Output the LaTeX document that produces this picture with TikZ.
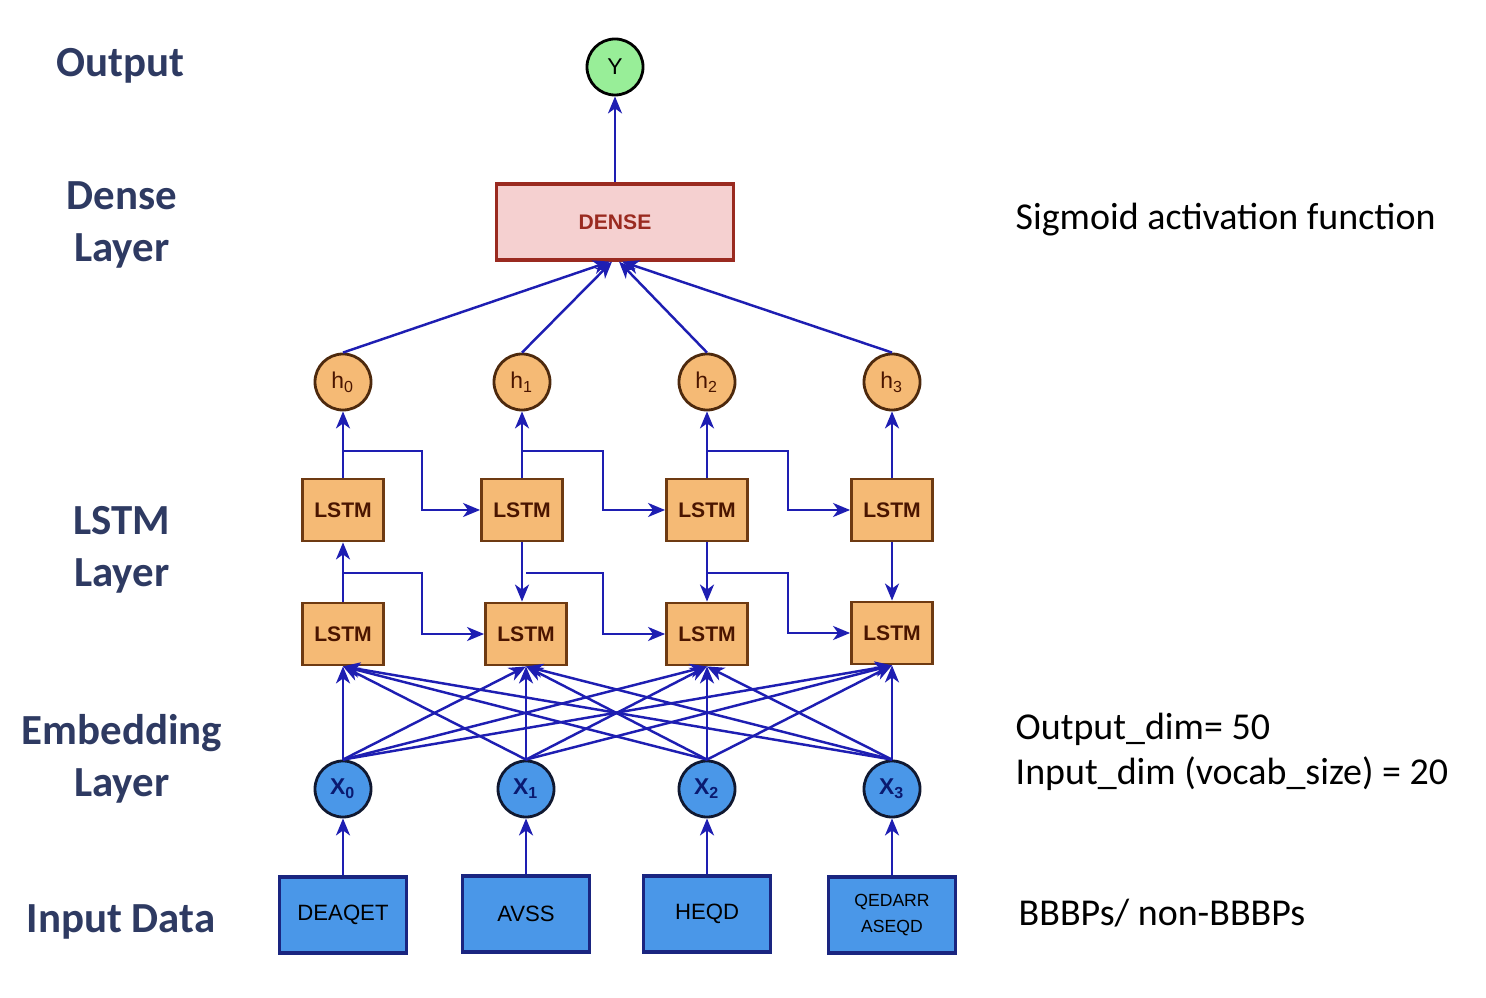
\documentclass[tikz,border=0pt]{standalone}
\usepackage{fontspec}
\setmainfont{Carlito}
\newfontfamily\nodefont{Liberation Sans}
\usepackage{tikz}
\usetikzlibrary{arrows.meta, positioning}

\definecolor{arrowblue}{HTML}{1E1EB2}
\definecolor{lstmfill}{HTML}{F5BA75}
\definecolor{lstmdraw}{HTML}{6E3A12}
\definecolor{lstmtext}{HTML}{4A1500}
\definecolor{embfill}{HTML}{4A97E8}
\definecolor{embdraw}{HTML}{101830}
\definecolor{embtext}{HTML}{0A1A70}
\definecolor{indraw}{HTML}{1A2580}
\definecolor{densefill}{HTML}{F5D0D0}
\definecolor{densedraw}{HTML}{9A2A20}
\definecolor{outfill}{HTML}{98EE98}
\definecolor{labelcol}{HTML}{2E3A62}

\begin{document}
\begin{tikzpicture}[
  x=0.01cm, y=-0.01cm,
  arrow/.style   = {-{Stealth[length=1.7mm, width=1.4mm, inset=0.5mm]},
                    draw=arrowblue, line width=0.7pt},
  lstmbox/.style = {rectangle, draw=lstmdraw, fill=lstmfill, line width=0.8pt,
                    minimum width=0.81cm, minimum height=0.62cm, inner sep=0pt,
                    text=lstmtext, font=\nodefont\fontsize{6}{7}\selectfont\bfseries},
  hidden/.style  = {circle, draw=lstmdraw!70!black, fill=lstmfill, line width=0.8pt,
                    minimum size=0.56cm, inner sep=0pt,
                    text=lstmtext, font=\nodefont\fontsize{6.5}{7}\selectfont},
  embed/.style   = {circle, draw=embdraw, fill=embfill, line width=0.8pt,
                    minimum size=0.56cm, inner sep=0pt,
                    text=embtext, font=\nodefont\fontsize{6.5}{7}\selectfont\bfseries},
  inbox/.style   = {rectangle, draw=indraw, fill=embfill, line width=0.9pt,
                    minimum width=1.27cm, minimum height=0.76cm, inner sep=0pt,
                    align=center, font=\nodefont\fontsize{6.3}{7.4}\selectfont},
  layerlabel/.style = {align=center, text=labelcol,
                    font=\fontsize{12.2}{14.8}\selectfont\bfseries},
  note/.style    = {anchor=west, align=left, inner sep=0pt,
                    font=\fontsize{10.8}{13}\selectfont}
]
\useasboundingbox (0,0) rectangle (1486,998);

% layer names
\node[layerlabel] (lblout)   at (120,66)  {Output};
\node[layerlabel] (lbldense) at (122,225) {Dense\\Layer};
\node[layerlabel] (lbllstm)  at (122,550) {LSTM\\Layer};
\node[layerlabel] (lblemb)   at (122,759) {Embedding\\Layer};
\node[layerlabel] (lblin)    at (121,922) {Input Data};

% output and dense
\node[circle, draw=black, fill=outfill, line width=0.8pt, minimum size=0.56cm,
      inner sep=0pt, font=\nodefont\fontsize{6.5}{7}\selectfont] (out) at (615,67) {Y};
\node[rectangle, draw=densedraw, fill=densefill, line width=0.9pt,
      minimum width=2.37cm, minimum height=0.76cm, text=densedraw,
      font=\nodefont\fontsize{6}{7}\selectfont\bfseries] (dense) at (615,222) {DENSE};

% hidden states
\node[hidden] (h0) at (343,382) {h\textsubscript{0}};
\node[hidden] (h1) at (522,382) {h\textsubscript{1}};
\node[hidden] (h2) at (707,382) {h\textsubscript{2}};
\node[hidden] (h3) at (892,382) {h\textsubscript{3}};

% LSTM cells
\node[lstmbox] (lstmT0) at (343,510) {LSTM};
\node[lstmbox] (lstmT1) at (522,510) {LSTM};
\node[lstmbox] (lstmT2) at (707,510) {LSTM};
\node[lstmbox] (lstmT3) at (892,510) {LSTM};
\node[lstmbox] (lstmB0) at (343,634) {LSTM};
\node[lstmbox] (lstmB1) at (526,634) {LSTM};
\node[lstmbox] (lstmB2) at (707,634) {LSTM};
\node[lstmbox] (lstmB3) at (892,633) {LSTM};

% embeddings
\node[embed] (x0) at (343,789) {X\textsubscript{0}};
\node[embed] (x1) at (526,789) {X\textsubscript{1}};
\node[embed] (x2) at (707,789) {X\textsubscript{2}};
\node[embed] (x3) at (892,789) {X\textsubscript{3}};

% input sequences
\node[inbox] (in0) at (343,915) {DEAQET};
\node[inbox] (in1) at (526,914) {AVSS};
\node[inbox] (in2) at (707,914) {HEQD};
\node[inbox, font=\nodefont\fontsize{5}{7.4}\selectfont] (in3) at (892,915) {QEDARR\\ASEQD};

% notes
\node[note] (sig)   at (1015,220) {Sigmoid activation function};
\node[note] (dims)  at (1015,752) {Output\_dim= 50\\Input\_dim (vocab\_size) = 20};
\node[note] (bbbp)  at (1018,913) {BBBPs/ non-BBBPs};

% connections
\draw[arrow] (dense.north) -- (out.south);
\draw[arrow] (h0.north) -- ([xshift=-0.05cm]dense.south);
\draw[arrow] (h1.north) -- ([xshift=-0.03cm]dense.south);
\draw[arrow] (h2.north) -- ([xshift=0.04cm]dense.south);
\draw[arrow] (h3.north) -- ([xshift=0.07cm]dense.south);

\foreach \i in {0,...,3} {
  \draw[arrow] (lstmT\i.north) -- (h\i.south);
  \draw[arrow] (in\i.north) -- (x\i.south);
  \foreach \j in {0,...,3}
    \draw[arrow] (x\i.north) -- (lstmB\j.south);
}

\draw[arrow] (lstmB0.north) -- (lstmT0.south);
\foreach \i in {1,2,3}
  \draw[arrow] (lstmT\i.south) -- (lstmT\i.south |- lstmB\i.north);

% recurrent links
\foreach \i/\j/\k in {0/1/422, 1/2/603, 2/3/788} {
  \coordinate (tk\i) at (\k,451);
  \coordinate (bk\i) at (\k,573);
  \draw[arrow] (lstmT\i.north |- tk\i) -| (lstmT\j.west -| tk\i) -- (lstmT\j.west);
  \draw[arrow] (lstmB\i.north |- bk\i) -| (lstmB\j.west -| bk\i) -- (lstmB\j.west);
}

\end{tikzpicture}
\end{document}
